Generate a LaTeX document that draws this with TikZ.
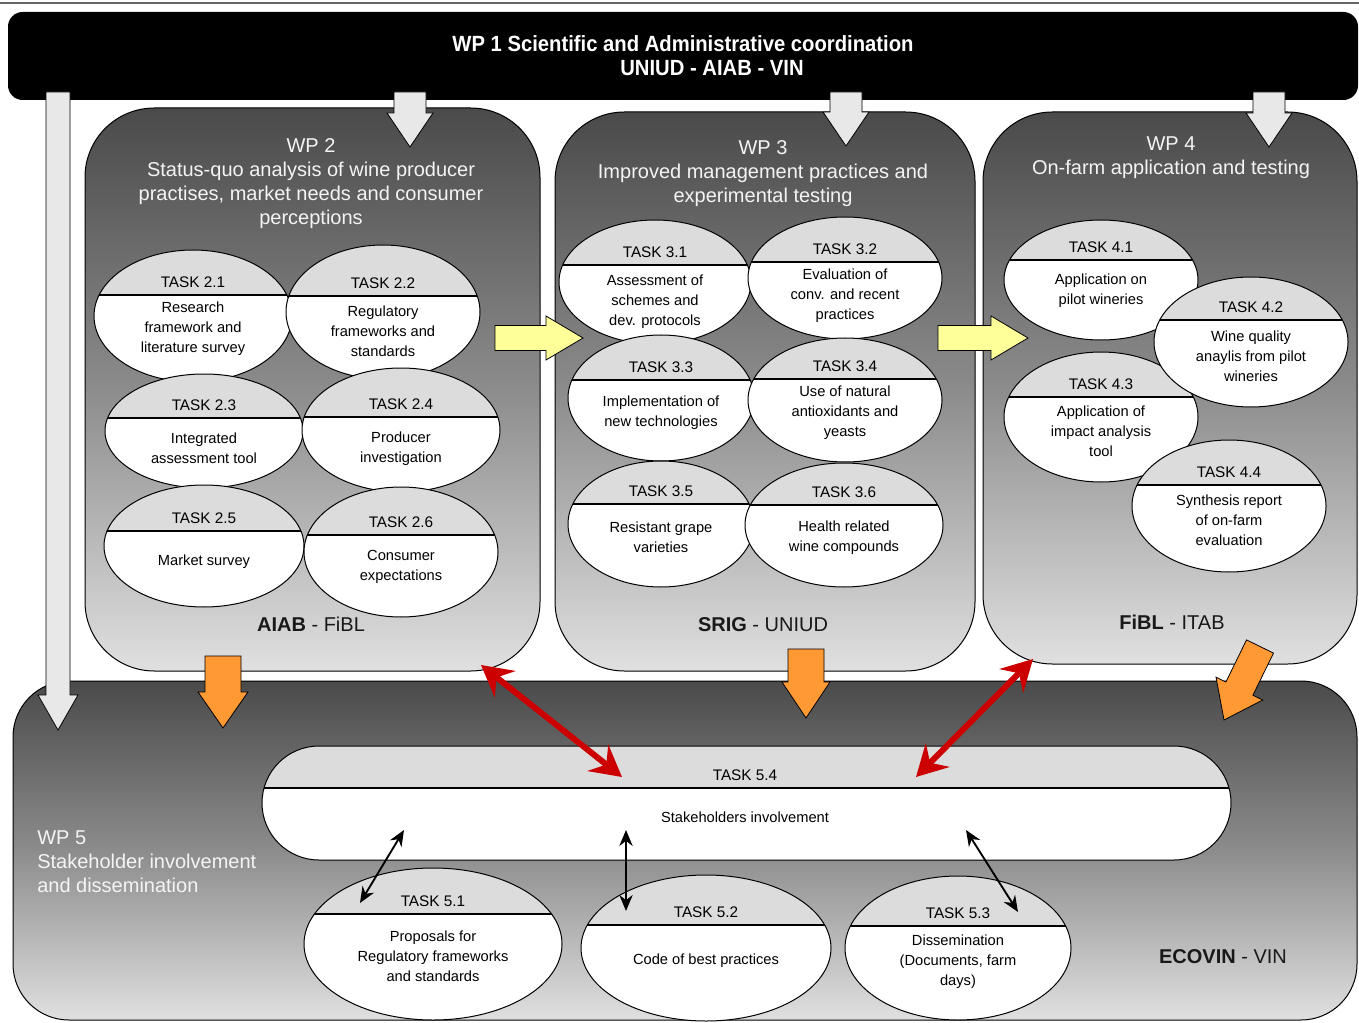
\documentclass[tikz,border=0pt]{standalone}
\usepackage{fontspec}
\setmainfont{Liberation Sans}
\newfontfamily\narrowfont[FakeStretch=0.92]{Liberation Sans}
\usetikzlibrary{arrows.meta,shapes.geometric}
\definecolor{taskgray}{HTML}{DCDCDC}
\definecolor{boxtop}{HTML}{4A4A4A}
\definecolor{boxmid}{HTML}{8C8C8C}
\definecolor{boxbot}{HTML}{E0E0E0}
\definecolor{arrowgray}{HTML}{E8E8E8}
\definecolor{arroworange}{HTML}{FF9933}
\definecolor{arrowyellow}{HTML}{FFFF99}
\definecolor{arrowred}{HTML}{CC0000}
\definecolor{titlewhite}{HTML}{F4F4F4}

\newcommand\taskell[9]{%
  \begin{scope}
    \clip (#2,#3) ellipse [x radius=#4, y radius=#5];
    \fill[white] (#2-#4,#3-#5) rectangle (#2+#4,#3+#5);
    \fill[taskgray] (#2-#4,#3-#5) rectangle (#2+#4,#6);
    \draw[divline] (#2-#4,#6) -- (#2+#4,#6);
  \end{scope}
  \node[taskoutline, minimum width={1.5pt*#4}, minimum height={1.5pt*#5}] (#1) at (#2,#3) {};
  \node[tasktitle] (#1t) at (#2,#6-13) {#7};
  \node[taskbody] (#1b) at (#2,#9) {#8};
}
\newcommand\dnarrow[7]{\draw[#7] (#1-#4,#2) -- (#1+#4,#2) -- (#1+#4,#3-#6) -- (#1+#5,#3-#6) -- (#1,#3) -- (#1-#5,#3-#6) -- (#1-#4,#3-#6) -- cycle;}
\newcommand\rtarrow[7]{\draw[#7] (#2,#1-#4) -- (#3-#6,#1-#4) -- (#3-#6,#1-#5) -- (#3,#1) -- (#3-#6,#1+#5) -- (#3-#6,#1+#4) -- (#2,#1+#4) -- cycle;}

\begin{document}
\begin{tikzpicture}[x=0.75pt,y=-0.75pt,
  wpbox/.style={draw=black, line width=0.75pt, top color=boxtop, bottom color=boxbot, middle color=boxmid, rounded corners=52pt, inner sep=0pt},
  taskoutline/.style={draw=black, line width=0.75pt, ellipse, inner sep=0pt},
  divline/.style={draw=black, line width=0.9pt},
  tasktitle/.style={inner sep=0pt, font=\fontsize{11.5pt}{15pt}\selectfont},
  taskbody/.style={inner sep=0pt, align=center, font=\fontsize{11pt}{15pt}\selectfont},
  wptitle/.style={inner sep=0pt, align=center, text=titlewhite, font=\fontsize{15pt}{18pt}\selectfont},
  partner/.style={inner sep=0pt, text=black!90, font=\fontsize{15pt}{18pt}\selectfont},
  wponetext/.style={inner sep=0pt, text=white, font=\narrowfont\bfseries\fontsize{16.5pt}{18pt}\selectfont},
  grayarrow/.style={draw=black, line width=0.6pt, fill=arrowgray},
  orangearrow/.style={draw=black, line width=0.6pt, fill=arroworange},
  yellowarrow/.style={draw=black, line width=0.6pt, fill=arrowyellow},
  redarrow/.style={draw=arrowred, line width=4.5pt, {Stealth[length=23pt,width=25pt,inset=8pt]}-{Stealth[length=23pt,width=25pt,inset=8pt]}},
  blackarrow/.style={draw=black, line width=1.4pt, {Stealth[length=12pt,width=10pt]}-{Stealth[length=12pt,width=10pt]}}
]
\useasboundingbox (0,0) rectangle (1359,1023);
\fill[white] (0,0) rectangle (1359,1023);
\draw[black!60, line width=1pt] (0,3) -- (1359,3);

% WP1 bar
\node[fill=black, rounded corners=11pt, minimum width=1012.5pt, minimum height=66pt, inner sep=0pt] (wp1) at (683,56) {};
\node[wponetext] (wp1a) at (683,44) {WP 1 Scientific and Administrative coordination};
\node[wponetext] (wp1b) at (712,68) {UNIUD - AIAB - VIN};

% WP boxes
\node[wpbox, minimum width=341.25pt, minimum height=422.25pt] (wp2) at (312.5,389.5) {};
\node[wpbox, minimum width=315pt, minimum height=419.25pt] (wp3) at (765,391.5) {};
\node[wpbox, minimum width=280.5pt, minimum height=414pt] (wp4) at (1170,388) {};
\node[wpbox, rounded corners=42pt, minimum width=1008pt, minimum height=254.25pt] (wp5) at (685,850.5) {};

% titles
\node[wptitle] (wp2t) at (311,184) {WP 2\\Status-quo analysis of wine producer\\practises, market needs and consumer\\perceptions};
\node[wptitle] (wp3t) at (763,174) {WP 3\\Improved management practices and\\experimental testing};
\node[wptitle] (wp4t) at (1171,158) {WP 4\\On-farm application and testing};
\node[wptitle, anchor=west, align=left] (wp5t) at (37,862) {WP 5\\Stakeholder involvement\\and dissemination};

\node[partner] (wp2p) at (311,624) {\textbf{AIAB} - FiBL};
\node[partner] (wp3p) at (763,625) {\textbf{SRIG} - UNIUD};
\node[partner] (wp4p) at (1172,622) {\textbf{FiBL} - ITAB};
\node[partner] (wp5p) at (1223,957) {\textbf{ECOVIN} - VIN};

% WP2 tasks
\taskell{t21}{193}{316}{99}{66}{295}{TASK 2.1}{Research\\framework and\\literature survey}{329}
\taskell{t22}{383}{312}{97}{67}{296}{TASK 2.2}{Regulatory\\frameworks and\\standards}{331}
\taskell{t23}{204}{431}{99}{57}{418}{TASK 2.3}{Integrated\\assessment tool}{448}
\taskell{t24}{401}{430}{99}{62}{417}{TASK 2.4}{Producer\\investigation}{449}
\taskell{t25}{204}{546}{100}{61}{531}{TASK 2.5}{Market survey}{562}
\taskell{t26}{401}{552}{97}{65}{535}{TASK 2.6}{Consumer\\expectations}{567}
% WP3 tasks
\taskell{t31}{655}{282}{96}{62}{265}{TASK 3.1}{Assessment of\\schemes and\\dev. protocols}{302}
\taskell{t32}{845}{278}{97}{61}{262}{TASK 3.2}{Evaluation of\\conv. and recent\\practices}{296}
\taskell{t33}{661}{398}{93}{63}{380}{TASK 3.3}{Implementation of\\new technologies}{413}
\taskell{t34}{845}{400}{97}{62}{379}{TASK 3.4}{Use of natural\\antioxidants and\\yeasts}{413}
\taskell{t35}{661}{524}{93}{63}{504}{TASK 3.5}{Resistant grape\\varieties}{537}
\taskell{t36}{844}{525}{99}{62}{505}{TASK 3.6}{Health related\\wine compounds}{538}
% WP4 tasks
\taskell{t41}{1101}{280}{97}{60}{260}{TASK 4.1}{Application on\\pilot wineries}{290.5}
\taskell{t43}{1101}{417}{97}{65}{397}{TASK 4.3}{Application of\\impact analysis\\tool}{431}
\taskell{t42}{1251}{342}{97}{65}{320}{TASK 4.2}{Wine quality\\anaylis from pilot\\wineries}{356}
\taskell{t44}{1229}{506}{97}{66}{485}{TASK 4.4}{Synthesis report\\of on-farm\\evaluation}{520}

% TASK 5.4 stadium
\begin{scope}
  \clip[rounded corners=42.75pt] (262,746) rectangle (1231,860);
  \fill[white] (262,746) rectangle (1231,860);
  \fill[taskgray] (262,746) rectangle (1231,788);
  \draw[divline] (262,788) -- (1231,788);
\end{scope}
\node[draw=black, line width=0.75pt, rounded corners=42.75pt, minimum width=726.75pt, minimum height=85.5pt, inner sep=0pt] (t54) at (746.5,803) {};
\node[tasktitle] (t54t) at (745,775) {TASK 5.4};
\node[taskbody] (t54b) at (745,817) {Stakeholders involvement};

% WP5 tasks
\taskell{t51}{433}{944}{129}{76}{914}{TASK 5.1}{Proposals for\\Regulatory frameworks\\and standards}{956}
\taskell{t52}{706}{948}{125}{73}{925}{TASK 5.2}{Code of best practices}{961}
\taskell{t53}{958}{948}{113}{72}{926}{TASK 5.3}{Dissemination\\(Documents, farm\\days)}{962}

% gray arrows from WP1
\dnarrow{410}{92}{147}{16}{23}{34}{grayarrow}
\dnarrow{846}{92}{146}{16}{23}{34}{grayarrow}
\dnarrow{1269}{92}{147}{16}{23}{34}{grayarrow}
\dnarrow{58}{92}{730}{12}{20}{35}{grayarrow}

% yellow arrows
\rtarrow{338}{495}{583}{12.5}{22}{37}{yellowarrow}
\rtarrow{338}{938}{1028}{12.5}{22}{37}{yellowarrow}

% orange arrows
\dnarrow{223}{656}{728}{18}{25}{36}{orangearrow}
\dnarrow{806}{649}{718}{18}{24}{36}{orangearrow}
\draw[orangearrow] (1246.5,639.9) -- (1273.5,653.1) -- (1252.9,695.2) -- (1262.7,700.0) -- (1224,720) -- (1216.0,677.2) -- (1225.9,682.0) -- cycle;

% red arrows
\coordinate (r1a) at (481,665);
\coordinate (r1b) at (622,777);
\coordinate (r2a) at (1033,659);
\coordinate (r2b) at (916,777);
\draw[redarrow] (r1a) -- (r1b);
\draw[redarrow] (r2a) -- (r2b);

% black arrows
\coordinate (b1a) at (404,830);
\coordinate (b1b) at (360,903);
\coordinate (b2a) at (626,830);
\coordinate (b2b) at (626,911);
\coordinate (b3a) at (966,830);
\coordinate (b3b) at (1018,912);
\draw[blackarrow] (b1a) -- (b1b);
\draw[blackarrow] (b2a) -- (b2b);
\draw[blackarrow] (b3a) -- (b3b);
\end{tikzpicture}
\end{document}
